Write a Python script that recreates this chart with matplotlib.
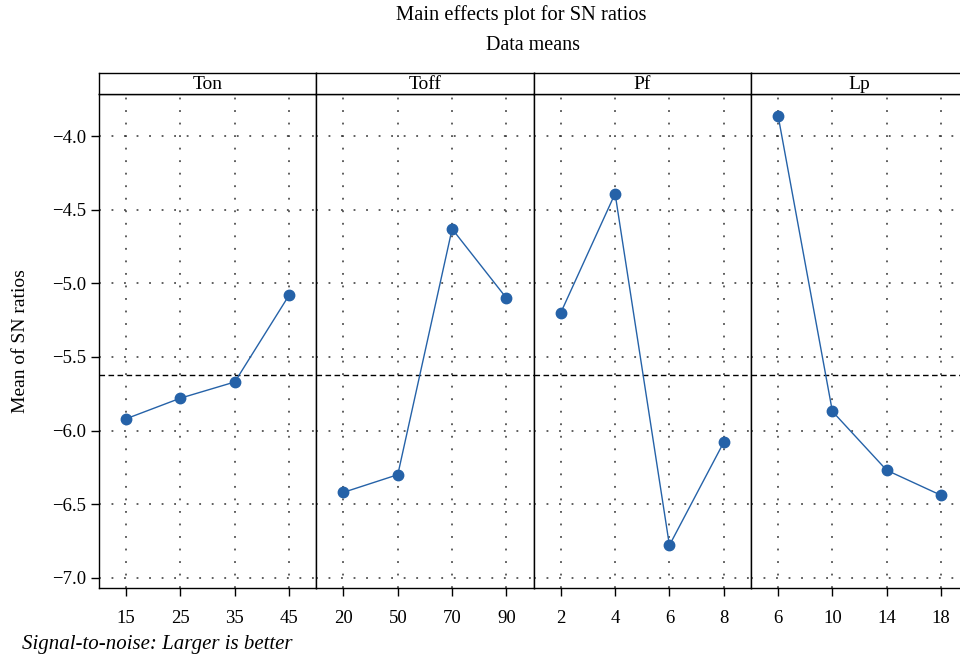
import matplotlib
matplotlib.use("Agg")
import matplotlib.pyplot as plt

plt.rcParams['font.family'] = ['Liberation Serif', 'DejaVu Serif']

factors = ['Ton', 'Toff', 'Pf', 'Lp']
levels = [['15', '25', '35', '45'],
          ['20', '50', '70', '90'],
          ['2', '4', '6', '8'],
          ['6', '10', '14', '18']]
ton = [-5.92, -5.78, -5.67, -5.08]
toff = [-6.42, -6.30, -4.63, -5.10]
pf = [-5.20, -4.39, -6.78, -6.08]
lp = [-3.86, -5.87, -6.27, -6.44]
means = [ton, toff, pf, lp]
overall = -5.62
yticks = [-4.0, -4.5, -5.0, -5.5, -6.0, -6.5, -7.0]

fig = plt.figure(figsize=(9.6, 6.6), dpi=100)
W, H = 960.0, 660.0
left, pw = 99, 217.3
top, bottom = 93.5, 588
strip = 20.5
blue = '#2562a8'

for i in range(4):
    x0 = left + i * pw
    ax = fig.add_axes([x0 / W, 1 - bottom / H, pw / W, (bottom - top) / H])
    xs = list(range(len(levels[i])))
    ax.axhline(overall, color='black', ls=(0, (4, 2.5)), lw=1.0, zorder=2)
    ax.plot(xs, means[i], color=blue, lw=1.0, marker='o', ms=7.5, zorder=3)
    ax.set_xlim(-0.5, 3.5)
    ax.set_ylim(-7.07, -3.71)
    ax.set_xticks(xs)
    ax.set_xticklabels(levels[i], fontsize=13.5)
    ax.set_yticks(yticks)
    ax.grid(True, color='#333333', ls=(0, (1.2, 7)), lw=1.1)
    ax.tick_params(axis='x', direction='out', length=6, width=1, pad=10)
    if i == 0:
        ax.set_yticklabels(['\u2212%.1f' % abs(v) for v in yticks], fontsize=13.5)
        ax.tick_params(axis='y', direction='out', length=6, width=1, pad=3)
        ax.set_ylabel('Mean of SN ratios', fontsize=14, labelpad=17)
    else:
        ax.tick_params(axis='y', length=0, labelleft=False)
    for s in ax.spines.values():
        s.set_linewidth(1.0)
    # header strip
    sx = fig.add_axes([x0 / W, 1 - top / H, pw / W, strip / H])
    sx.set_xticks([])
    sx.set_yticks([])
    for s in sx.spines.values():
        s.set_linewidth(1.0)
    sx.text(0.5, 0.45, factors[i], ha='center', va='center', fontsize=14,
            transform=sx.transAxes)

fig.text(521 / W, 1 - 15 / H, 'Main effects plot for SN ratios', ha='center',
         va='center', fontsize=14.8)
fig.text(533 / W, 1 - 45 / H, 'Data means', ha='center', va='center',
         fontsize=14.5)
fig.text(22 / W, 1 - 645 / H, 'Signal-to-noise: Larger is better',
         ha='left', va='center', fontsize=15, style='italic')

fig.savefig('out.png', dpi=100)
